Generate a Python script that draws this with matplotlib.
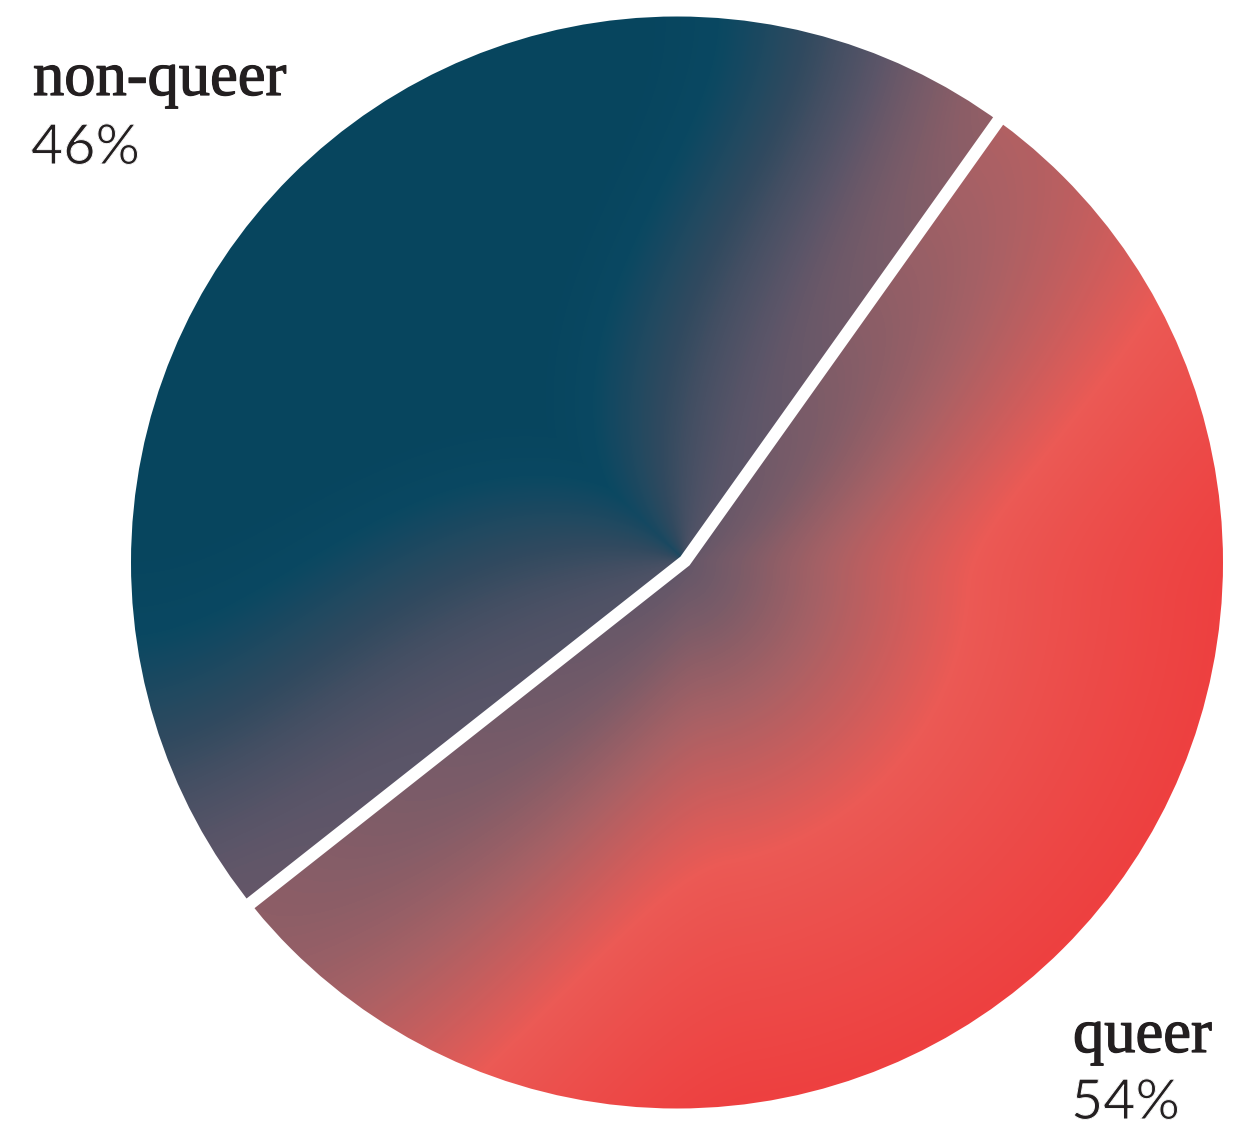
import numpy as np
import matplotlib
matplotlib.use("Agg")
import matplotlib.pyplot as plt
import matplotlib.patheffects as pe
from matplotlib.colors import LinearSegmentedColormap
from matplotlib.patches import Circle

# --- data -------------------------------------------------------------
labels = ["non-queer", "queer"]
shares = [46, 54]
share_text = ["46%", "54%"]

# --- canvas (axes in pixel units) ------------------------------------
W_PX, H_PX, DPI = 1254, 1127, 100
fig = plt.figure(figsize=(W_PX / DPI, H_PX / DPI), dpi=DPI)
ax = fig.add_axes([0, 0, 1, 1])
ax.set_xlim(0, W_PX)
ax.set_ylim(H_PX, 0)
ax.axis("off")

cx, cy, R = 677.0, 562.5, 546.0      # disc
px, py = 685.0, 561.0                # meeting point of the two cuts
start = 54.0                         # angle of the first cut (deg, counter-clockwise)


def region_area(a0, a1):
    """Area enclosed by apex -> arc(a0..a1) -> apex."""
    th = np.radians(np.linspace(a0, a1, 4000))
    xs = np.concatenate([[px - cx], R * np.cos(th)])
    ys = np.concatenate([[-(py - cy)], R * np.sin(th)])
    return 0.5 * abs(np.dot(xs, np.roll(ys, -1)) - np.dot(ys, np.roll(xs, -1)))


target = shares[0] / sum(shares) * np.pi * R ** 2
lo, hi = start + 60, start + 300
for _ in range(60):
    mid = 0.5 * (lo + hi)
    if region_area(start, mid) < target:
        lo = mid
    else:
        hi = mid
end = 0.5 * (lo + hi)


def on_rim(a, extra=0.0):
    return (cx + (R + extra) * np.cos(np.radians(a)),
            cy - (R + extra) * np.sin(np.radians(a)))


EA, EB = on_rim(start), on_rim(end)

# --- colour field ------------------------------------------------------
cmap = LinearSegmentedColormap.from_list("tealcoral", [
    (0.00, "#07455e"),
    (0.12, "#0a4862"),
    (0.30, "#324a5f"),
    (0.45, "#5a5568"),
    (0.55, "#7c5c68"),
    (0.65, "#a86165"),
    (0.80, "#eb5a55"),
    (1.00, "#ee4040"),
])

x0, x1 = cx - R - 4, cx + R + 4
y0, y1 = cy - R - 4, cy + R + 4
X, Y = np.meshgrid(np.arange(x0, x1, 1.0), np.arange(y0, y1, 1.0))

theta = np.degrees(np.arctan2(-(Y - py), X - px)) % 360
dirA = np.degrees(np.arctan2(-(EA[1] - py), EA[0] - px)) % 360
dirB = np.degrees(np.arctan2(-(EB[1] - py), EB[0] - px)) % 360
span = (dirB - dirA) % 360
in_first = ((theta - dirA) % 360) < span
r = np.clip(np.hypot(X - cx, Y - cy) / R, 0, 1)


def smooth(u):
    u = np.clip(u, 0, 1)
    return u * u * (3 - 2 * u)


# first wedge: teal core fading to mauve along both cuts
dA1 = (theta - dirA) % 360
dB1 = (dirB - theta) % 360
w1 = smooth(dA1 / (dA1 + dB1 + 1e-9))
e1 = (0.42 + 0.18 * r) * (1 - w1) + (0.41 + 0.07 * r) * w1
width = 45 + 120 * (1 - r) ** 2
t1 = e1 * (1 - smooth(np.minimum(dA1, dB1) / width))

# second wedge: mauve at the cuts warming to coral and red outward
dA2 = (dirA - theta) % 360
dB2 = (theta - dirB) % 360
w2 = smooth(dA2 / (dA2 + dB2 + 1e-9))
e2 = (0.47 + 0.20 * r) * (1 - w2) + (0.47 + 0.12 * r) * w2
g = r * smooth(np.minimum(dA2, dB2) / 60.0)
t2 = e2 + (1 - e2) * g

field = np.where(in_first, t1, t2)

disc = Circle((cx, cy), R, transform=ax.transData)
img = ax.imshow(field, cmap=cmap, vmin=0, vmax=1, extent=(x0, x1, y1, y0),
                interpolation="bilinear", zorder=1)
img.set_clip_path(disc)

# white cut between the wedges
EAo, EBo = on_rim(start, 30), on_rim(end, 30)
ax.plot([EAo[0], px, EBo[0]], [EAo[1], py, EBo[1]], color="white", lw=9,
        solid_joinstyle="miter", solid_capstyle="butt", zorder=3)

ax.set_xlim(0, W_PX)
ax.set_ylim(H_PX, 0)

# --- labels ------------------------------------------------------------
ink = "#231f20"
serif = dict(family=["Liberation Serif", "DejaVu Serif"], weight="normal",
             size=45, color=ink, va="baseline", ha="left",
             path_effects=[pe.withStroke(linewidth=0.9, foreground=ink)])
sans = dict(family=["Lato", "DejaVu Sans"], weight="normal",
            size=40, color=ink, va="baseline", ha="left",
            path_effects=[pe.Normal(), pe.Stroke(linewidth=0.7, foreground="white")])

ax.text(33, 95, labels[0], **serif)
ax.text(31, 164, share_text[0], **sans)
ax.text(1073, 1052, labels[1], **serif)
ax.text(1071, 1119, share_text[1], **sans)

fig.savefig("out.png", dpi=DPI, facecolor="white")
